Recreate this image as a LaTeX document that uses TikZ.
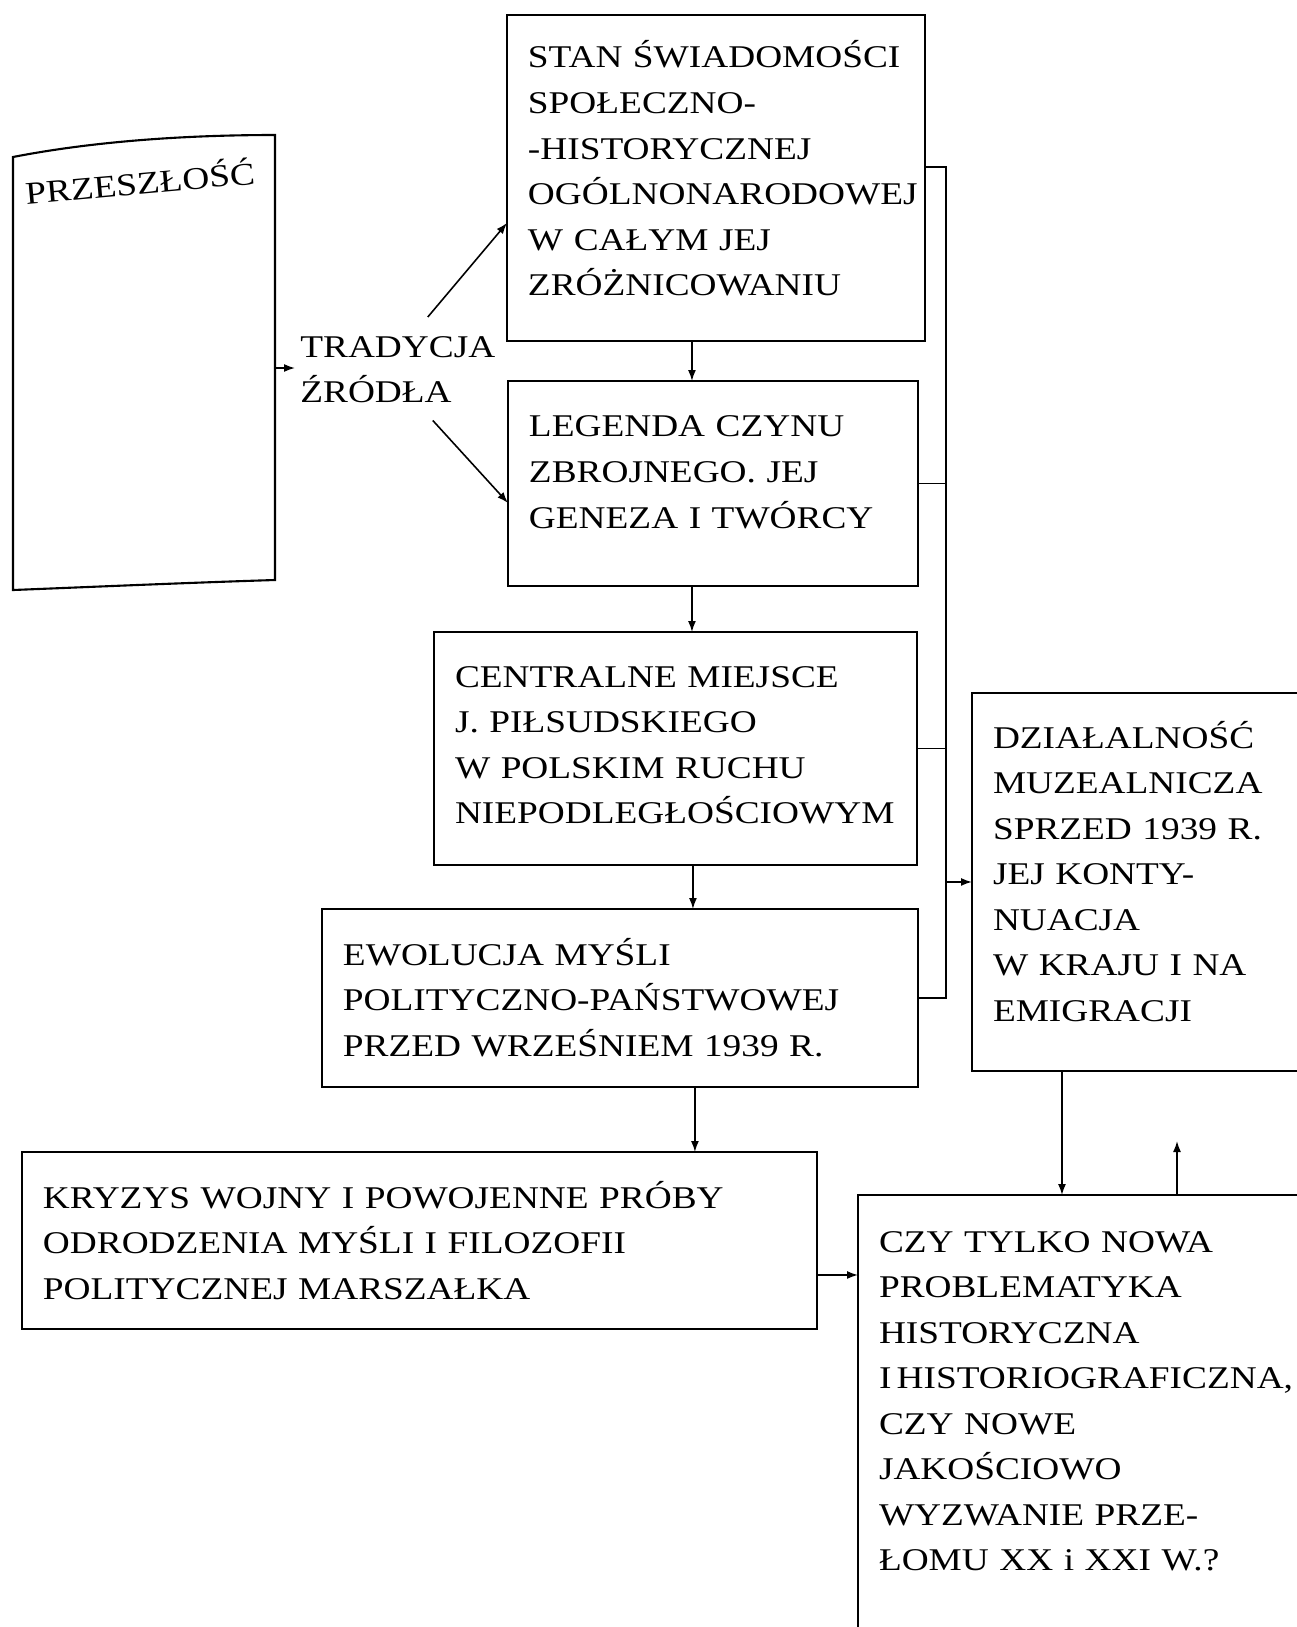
\documentclass[tikz,border=0pt]{standalone}
\usepackage{fontspec}
\setmainfont{Liberation Serif}[FakeStretch=1.18]
\usepackage{tikz}
\usetikzlibrary{arrows,arrows.meta,positioning}

\begin{document}
\begin{tikzpicture}[x=0.02cm, y=-0.02cm]
		\tikzstyle{Box}		= [draw, rectangle, line width=1.2pt, anchor=north west, align=left, inner xsep=0.42cm, inner ysep=0pt, outer sep=0pt, font={\fontsize{18}{25.9}\selectfont\hyphenpenalty=10000\exhyphenpenalty=10000}]
		\tikzstyle{Label}	= [inner sep=0.1cm, align=left, font=\fontsize{18}{25.9}\selectfont]
		\tikzstyle{Line}	= [line width=0.9pt]
		\tikzstyle{Arr}		= [line width=0.9pt, -{Latex[length=2.2mm, width=1.6mm]}]

		\fill[white] (0, 0) rectangle (1297, 1627);
		\useasboundingbox (0, 0) rectangle (1297, 1627);

		\draw[line width=1.2pt] (13, 157) .. controls (90, 142) and (180, 135) .. (275, 135) -- (275, 580) .. controls (180, 583) and (90, 587) .. (13, 590) -- cycle;
		\node (past) at (141, 194) [Label, anchor=base, rotate=5, inner sep=0pt] {PRZESZŁOŚĆ};
		\coordinate (pastr) at (275, 368);
		\node (trad) at (295, 331) [Label, anchor=north west] {TRADYCJA\\ŹRÓDŁA};

		\node (stan) at (507, 15) [Box, text width=7.52cm, text height=1.06cm, text depth=5.46cm] {STAN~ŚWIADOMOŚCI\\SPOŁECZNO-\\-HISTORYCZNEJ\\OGÓLNONARODOWEJ\\W CAŁYM JEJ\\ZRÓŻNICOWANIU};
		\node (leg) at (508, 381) [Box, text width=7.36cm, text height=1.12cm, text depth=2.98cm] {LEGENDA CZYNU\\ZBROJNEGO. JEJ\\GENEZA I TWÓRCY};
		\node (centr) at (434, 632) [Box, text width=8.82cm, text height=1.10cm, text depth=3.56cm] {CENTRALNE MIEJSCE\\J. PIŁSUDSKIEGO\\W POLSKIM RUCHU\\NIEPODLEGŁOŚCIOWYM};
		\node (ewol) at (322, 909) [Box, text width=11.08cm, text height=1.12cm, text depth=2.44cm] {EWOLUCJA MYŚLI\\POLITYCZNO-PAŃSTWOWEJ\\PRZED WRZEŚNIEM 1939 R.};
		\node (kryz) at (22, 1152) [Box, text width=15.06cm, text height=1.12cm, text depth=2.42cm] {KRYZYS WOJNY I POWOJENNE PRÓBY\\ODRODZENIA MYŚLI I FILOZOFII\\POLITYCZNEJ MARSZAŁKA};
		\node (muz) at (972, 693) [Box, text width=6.52cm, text height=1.10cm, text depth=6.46cm] {DZIAŁALNOŚĆ\\MUZEALNICZA\\SPRZED 1939 R.\\JEJ KONTY-\\NUACJA\\W KRAJU I NA\\EMIGRACJI};
		\node (czy) at (858, 1195) [Box, text width=8.8cm, text height=1.14cm, text depth=8.96cm] {CZY TYLKO NOWA\\PROBLEMATYKA\\HISTORYCZNA\\I\,HISTORIOGRAFICZNA,\\CZY NOWE\\JAKOŚCIOWO\\WYZWANIE PRZE-\\ŁOMU XX i XXI W.?};

		\coordinate (bus) at (946, 0);
		\coordinate (czyup) at (1177, 1141);

		\draw [Arr] (pastr) -- (pastr -| trad.west);
		\draw [Arr] ([xshift=0.6cm, yshift=0.28cm]trad.north) -- ([yshift=-4.16cm]stan.north west);
		\draw [Arr] ([xshift=0.7cm, yshift=-0.24cm]trad.south) -- ([yshift=-2.44cm]leg.north west);
		\draw [Arr] ([xshift=-0.48cm]stan.south) -- ([xshift=-0.48cm]stan.south |- leg.north);
		\draw [Arr] ([xshift=-0.42cm]leg.south) -- ([xshift=-0.42cm]leg.south |- centr.north);
		\draw [Arr] ([xshift=0.35cm]centr.south) -- ([xshift=0.35cm]centr.south |- ewol.north);
		\draw [Arr] ([xshift=1.5cm]ewol.south) -- ([xshift=1.5cm]ewol.south |- kryz.north);
		\draw [Arr] ([yshift=-0.69cm]kryz.east) -- ([yshift=-0.69cm]kryz.east -| czy.west);
		\draw [Arr] ([xshift=-1.88cm]muz.south) -- ([xshift=-1.88cm]muz.south |- czy.north);
		\draw [Arr] (czyup |- czy.north) -- (czyup);

		\draw [Line] ([yshift=0.22cm]stan.east) -- ([yshift=0.22cm]stan.east -| bus) -- (bus |- ewol.east) -- (ewol.east);
		\draw [Line] (leg.east) -- (leg.east -| bus);
		\draw [Line] (centr.east) -- (centr.east -| bus);
		\draw [Arr] (bus |- muz.west) -- (muz.west);
\end{tikzpicture}
\end{document}
